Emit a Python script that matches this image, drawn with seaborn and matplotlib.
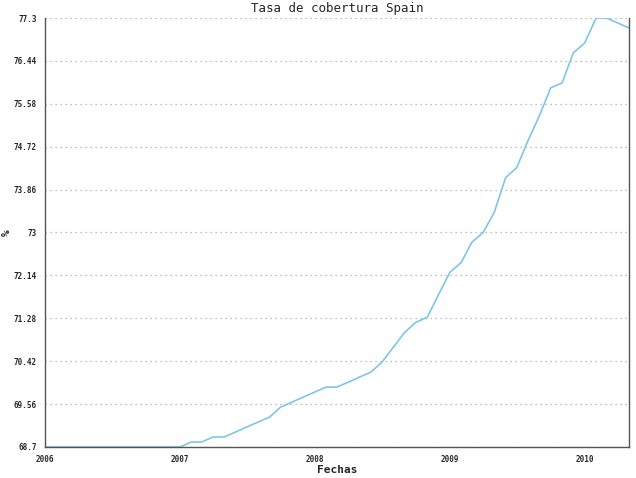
import matplotlib
matplotlib.use('Agg')
import matplotlib.pyplot as plt
import seaborn as sns
import pandas as pd

# monthly values, Jan 2006 .. May 2010
months = pd.date_range('2006-01-01', '2010-05-01', freq='MS')
rate = [68.7] * 12 + [
    68.7, 68.8, 68.8, 68.9, 68.9, 69.0, 69.1, 69.2, 69.3, 69.5, 69.6, 69.7,   # 2007
    69.8, 69.9, 69.9, 70.0, 70.1, 70.2, 70.4, 70.7, 71.0, 71.2, 71.3, 71.75,  # 2008
    72.2, 72.4, 72.8, 73.0, 73.4, 74.1, 74.3, 74.85, 75.35, 75.9, 76.0, 76.6,  # 2009
    76.8, 77.3, 77.3, 77.2, 77.1,                                             # 2010
]
y_ticks = [68.7, 69.56, 70.42, 71.28, 72.14, 73, 73.86, 74.72, 75.58, 76.44, 77.3]
y_labels = ['68.7', '69.56', '70.42', '71.28', '72.14', '73', '73.86', '74.72', '75.58', '76.44', '77.3']
x_years = ['2006', '2007', '2008', '2009', '2010']

df = pd.DataFrame({'fecha': months, 'tasa': rate})

sns.set_style('white')
plt.rcParams['font.family'] = ['DejaVu Sans Mono', 'DejaVu Sans']

fig = plt.figure(figsize=(6.36, 4.78), dpi=100)
ax = fig.add_axes([0.0708, 0.0649, 0.9182, 0.8974])

sns.lineplot(data=df, x='fecha', y='tasa', color='#7ec6e6', linewidth=1.2, ax=ax)

ax.set_xlim(pd.Timestamp('2006-01-01'), pd.Timestamp('2010-05-01'))
ax.set_ylim(68.7, 77.3)
ax.set_yticks(y_ticks)
ax.set_yticklabels(y_labels)
ax.set_xticks([pd.Timestamp(y + '-01-01') for y in x_years])
ax.set_xticklabels(x_years)

ax.yaxis.grid(True, linestyle=(0, (1, 3)), color='#aaaaaa', linewidth=0.9)
ax.xaxis.grid(False)

for side in ['left', 'bottom', 'right']:
    ax.spines[side].set_visible(True)
    ax.spines[side].set_color('#555555')
    ax.spines[side].set_linewidth(1.0)
ax.spines['top'].set_visible(False)

ax.tick_params(axis='y', direction='out', length=4, width=0.8, color='#333333',
               labelsize=5.5, pad=2)
ax.tick_params(axis='x', direction='inout', length=6, width=0.8, color='#333333',
               labelsize=5.5, pad=3)
for lbl in ax.get_xticklabels() + ax.get_yticklabels():
    lbl.set_fontweight('bold')

ax.set_title('Tasa de cobertura Spain', fontsize=9, pad=4)
ax.set_xlabel('Fechas', fontsize=8, fontweight='bold')
ax.set_ylabel('%', fontsize=8, fontweight='bold')
ax.xaxis.set_label_coords(0.5, -0.041)
ax.yaxis.set_label_coords(-0.056, 0.5)

fig.savefig('out.png', dpi=100)
